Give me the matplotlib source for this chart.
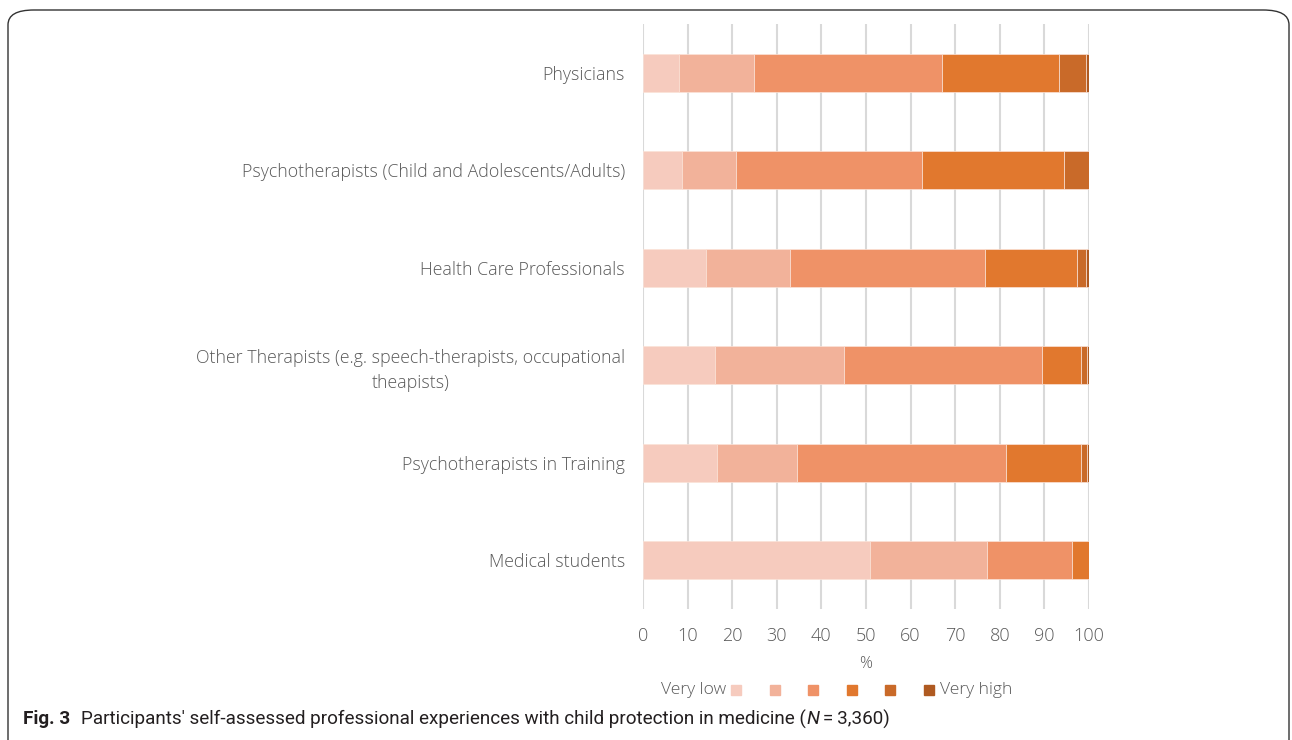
import numpy as np
import matplotlib
matplotlib.use('Agg')
import matplotlib.pyplot as plt
from matplotlib.patches import Rectangle, FancyBboxPatch

plt.rcParams['font.family'] = ['Open Sans', 'DejaVu Sans']

# data (percent per rating level, very low -> very high)
groups = ['Physicians',
          'Psychotherapists (Child and Adolescents/Adults)',
          'Health Care Professionals',
          'Other Therapists (e.g. speech-therapists, occupational\ntheapists)',
          'Psychotherapists in Training',
          'Medical students']
level1 = [8.0, 8.7, 14.1, 16.1, 16.6, 51.0]
level2 = [16.9, 12.2, 18.9, 28.9, 17.9, 26.1]
level3 = [42.1, 41.7, 43.7, 44.4, 47.0, 19.0]
level4 = [26.3, 31.7, 20.7, 8.9, 16.6, 3.9]
level5 = [6.0, 5.7, 1.9, 1.3, 1.4, 0.0]
level6 = [0.7, 0.0, 0.7, 0.4, 0.5, 0.0]
xticks = [0, 10, 20, 30, 40, 50, 60, 70, 80, 90, 100]

colors = ['#F6CBBE', '#F2B29A', '#EF9267', '#E1782E', '#C96A29', '#AF5A21']
grey = '#595959'

fig = plt.figure(figsize=(12.92, 7.40), dpi=100)
ax = fig.add_axes([643/1292, 1-609/740, 446/1292, 585/740])

levels = [level1, level2, level3, level4, level5, level6]
y = np.arange(len(groups))
left = np.zeros(len(groups))
for vals, c in zip(levels, colors):
    vals = np.array(vals)
    ax.barh(y, vals, left=left, height=0.39, color=c, edgecolor='#FBE3D8', linewidth=0.5, zorder=3)
    left += vals

ax.set_xlim(0, 100)
ax.set_ylim(len(groups)-0.5, -0.5)
ax.set_xticks(xticks)
ax.set_xticklabels([str(t) for t in xticks])
ax.set_yticks(y)
ax.set_yticklabels(groups)
for lab in ax.get_yticklabels():
    lab.set_multialignment('center')
    lab.set_linespacing(1.45)
    lab.set_fontweight('light')
for lab in ax.get_xticklabels():
    lab.set_fontweight('light')
ax.tick_params(axis='y', length=0, pad=13, labelsize=12.8, labelcolor=grey)
ax.tick_params(axis='x', length=0, pad=13, labelsize=13, labelcolor=grey)
ax.grid(axis='x', color='#D9D9D9', linewidth=1.5, zorder=0)
for s in ax.spines.values():
    s.set_visible(False)
ax.set_xlabel('%', color=grey, fontsize=11.5, labelpad=8, fontweight='light')

# legend, drawn by hand like the Excel original
fy = 1 - 690/740
fig.text(726/1292, fy, 'Very low', ha='right', va='center', fontsize=12.6, color=grey, fontweight='light')
sq_x = [736, 775, 813, 852, 890, 929]
for sx, c in zip(sq_x, colors):
    fig.add_artist(Rectangle(((sx-5)/1292, fy-5/740), 10/1292, 10/740, transform=fig.transFigure, color=c))
fig.text(940/1292, fy, 'Very high', ha='left', va='center', fontsize=12.6, color=grey, fontweight='light')

# frame with rounded corners
fig.add_artist(FancyBboxPatch((8/1292, -0.05), 1281/1292, 1.05-10/740,
                              boxstyle='round,pad=0,rounding_size=0.02',
                              transform=fig.transFigure, fill=False, edgecolor='#333333', linewidth=1.0))

# caption
cap_font = ['Roboto', 'DejaVu Sans']
cy = 1 - 719/740
r = fig.canvas.get_renderer()
x0 = 23/1292
pieces = [('Fig. 3', 'bold', 'normal', 11/1292),
          ("Participants' self-assessed professional experiences with child protection in medicine (", 'normal', 'normal', 0),
          ('N', 'normal', 'italic', 0),
          ('\u2009=\u20093,360)', 'normal', 'normal', 0)]
for txt, w, st, gap in pieces:
    t = fig.text(x0, cy, txt, ha='left', va='center', fontsize=13.6, family=cap_font,
                 weight=w, style=st, color='#231F20')
    bb = t.get_window_extent(renderer=r)
    x0 = bb.x1/1292 + gap

fig.savefig('out.png', dpi=100)
